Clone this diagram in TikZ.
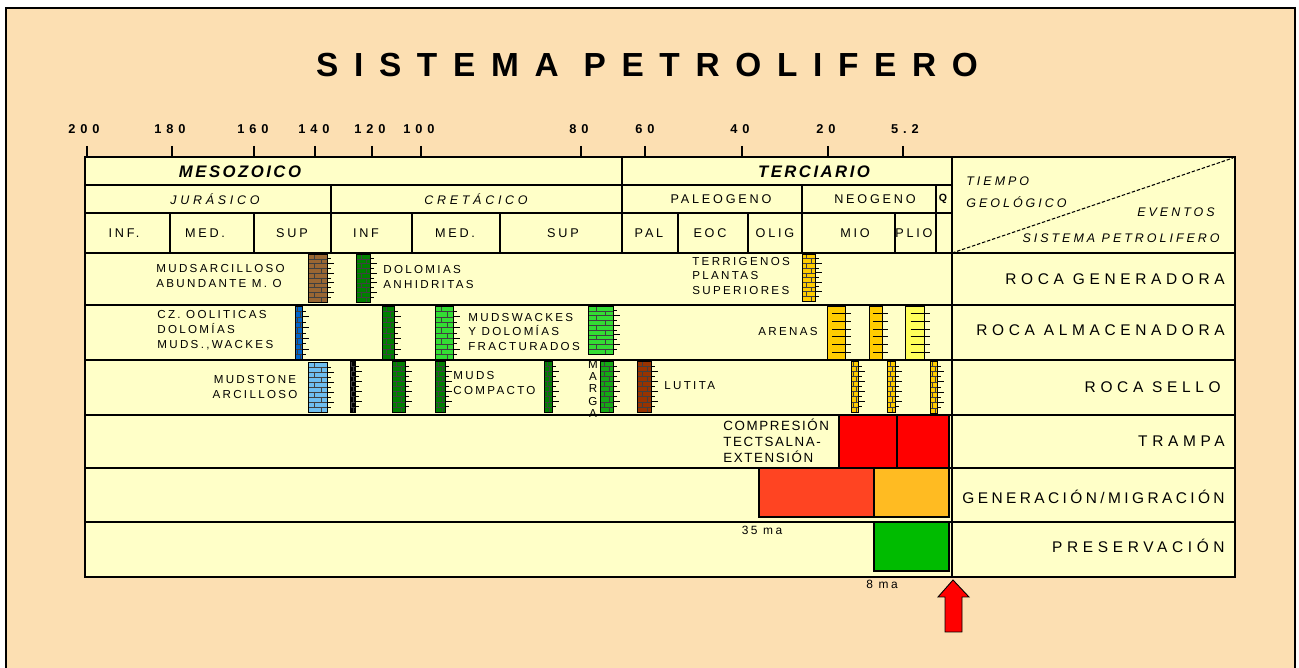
\documentclass[tikz,border=0pt]{standalone}
\usepackage{fontspec}
\setmainfont{Liberation Sans}
\usepackage{xcolor}
\usetikzlibrary{positioning, calc}

\definecolor{peach}{RGB}{252,223,178}
\definecolor{chartbg}{RGB}{255,255,200}
\definecolor{mudbrown}{RGB}{153,102,51}
\definecolor{dolgreen}{RGB}{0,128,0}
\definecolor{litegreen}{RGB}{51,221,51}
\definecolor{marlgreen}{RGB}{20,170,20}
\definecolor{oolblue}{RGB}{0,102,204}
\definecolor{skyblue}{RGB}{110,190,240}
\definecolor{sandgold}{RGB}{255,204,0}
\definecolor{sandpale}{RGB}{255,255,90}
\definecolor{shalebrown}{RGB}{153,51,0}
\definecolor{trapred}{RGB}{255,0,0}
\definecolor{genorange}{RGB}{255,68,34}
\definecolor{migamber}{RGB}{255,187,34}
\definecolor{presgreen}{RGB}{0,187,0}

\newcommand*\sized[2]{\fontsize{#1}{#2}\selectfont}
\newcommand*\track[1]{\addfontfeature{LetterSpace=#1}}

% lithology column: x1, x2, y1, y2, colour
\newcommand{\lithcol}[5]{%
  \fill[#5] (#1,#3) rectangle (#2,#4);
  \foreach \f in {1,...,9}
    \draw[black!75, line width=0.3pt] (#1,{#3+(#4-#3)*\f/10}) -- (#2,{#3+(#4-#3)*\f/10});
  \foreach \f in {0,2,...,8}
    \draw[black!75, line width=0.3pt] ({#1+(#2-#1)*0.35},{#3+(#4-#3)*\f/10}) -- ++(0,{(#4-#3)/10});
  \foreach \f in {1,3,...,9}
    \draw[black!75, line width=0.3pt] ({#1+(#2-#1)*0.7},{#3+(#4-#3)*\f/10}) -- ++(0,{(#4-#3)/10});
  \draw[line width=0.5pt] (#1,#3) rectangle (#2,#4);
  \foreach \f in {1,...,9}
    \draw[line width=0.5pt] (#2,{#3+(#4-#3)*\f/10}) -- ++({mod(\f,2)==0 ? 7 : 4},0);
}
% sand column: x1, x2, y1, y2, colour
\newcommand{\sandcol}[5]{%
  \filldraw[fill=#5, line width=0.5pt] (#1,#3) rectangle (#2,#4);
  \foreach \f in {1,...,6}
    \draw[line width=0.5pt] ({#1+(#2-#1)*0.3},{#3+(#4-#3)*\f/7}) -- ({#2+6},{#3+(#4-#3)*\f/7});
}

\tikzstyle{grid} = [line width=0.8pt, black]
\tikzstyle{titletext} = [font=\sized{19}{22}\bfseries\track{47}, inner sep=0pt]
\tikzstyle{agelabel} = [font=\sized{7.3}{8}\bfseries\track{38}, inner sep=0pt]
\tikzstyle{eralabel} = [font=\sized{9.5}{11}\bfseries\itshape\track{15}, inner sep=0pt]
\tikzstyle{periodlabel} = [font=\sized{7.1}{8}\itshape\track{30}, inner sep=0pt]
\tikzstyle{epochlabel} = [font=\sized{7.2}{8}\track{22}, inner sep=0pt]
\tikzstyle{keytext} = [font=\sized{7.1}{8}\itshape\track{24}, inner sep=0pt]
\tikzstyle{rocktext} = [font=\sized{6.6}{8.5}\track{20}, align=left, anchor=west, inner sep=0pt]
\tikzstyle{eventlabel} = [font=\sized{8.8}{10}\track{30}, anchor=east, inner sep=0pt]
\tikzstyle{marktext} = [font=\sized{6.8}{8}\track{20}, inner sep=0pt]

\begin{document}
\begin{tikzpicture}[x=0.02cm, y=-0.02cm]
    \useasboundingbox (0,0) rectangle (1299,668);

    % === FRAME ===
    \fill[white] (0,0) rectangle (1299,668);
    \filldraw[fill=peach, line width=1.6pt] (6,8) rectangle (1295,700);
    \node (title) [titletext] at (647,65) {SISTEMA PETROLIFERO};

    % === CHART BODY ===
    \fill[chartbg] (85,157) rectangle (1235,577);

    % event boxes
    \filldraw[fill=trapred, line width=0.6pt] (839,415) rectangle (897,468);
    \filldraw[fill=trapred, line width=0.6pt] (897,415) rectangle (949,468);
    \filldraw[fill=genorange, line width=0.6pt] (759,468) rectangle (874,517);
    \filldraw[fill=migamber, line width=0.6pt] (874,468) rectangle (949,517);
    \filldraw[fill=presgreen, line width=0.6pt] (874,522) rectangle (949,571);

    % roca generadora
    \lithcol{308}{327}{254}{302}{mudbrown}
    \lithcol{356}{370}{254}{302}{dolgreen}
    \lithcol{802}{815}{254}{301}{sandgold}
    % roca almacenadora
    \lithcol{295}{302}{306}{360}{oolblue}
    \lithcol{382}{394}{306}{360}{dolgreen}
    \lithcol{435}{453}{306}{360}{litegreen}
    \lithcol{588}{613}{306}{354}{litegreen}
    \sandcol{827}{845}{306}{360}{sandgold}
    \sandcol{869}{882}{306}{360}{sandgold}
    \sandcol{905}{924}{306}{360}{sandpale}
    % roca sello
    \lithcol{308}{327}{362}{412}{skyblue}
    \lithcol{350}{355}{361}{412}{black}
    \lithcol{392}{405}{361}{412}{dolgreen}
    \lithcol{435}{445}{361}{412}{dolgreen}
    \lithcol{544}{552}{361}{412}{dolgreen}
    \lithcol{600}{613}{361}{412}{marlgreen}
    \lithcol{637}{651}{361}{412}{shalebrown}
    \lithcol{851}{858}{361}{412}{sandgold}
    \lithcol{887}{895}{361}{412}{sandgold}
    \lithcol{930}{937}{361}{413}{sandgold}

    % grid
    \draw[grid] (85,157) rectangle (1235,577);
    \foreach \y in {253,305,360,415,468,522} \draw[grid] (85,\y) -- (1235,\y);
    \draw[grid] (85,185) -- (952,185);
    \draw[grid] (85,213) -- (952,213);
    \draw[grid] (952,157) -- (952,577);
    \draw[grid] (622,157) -- (622,253);
    \foreach \x in {331,802,936} \draw[grid] (\x,185) -- (\x,253);
    \foreach \x in {170,254,412,500,678,748,895} \draw[grid] (\x,213) -- (\x,253);
    \draw[dash pattern=on 2pt off 1pt, line width=0.6pt] (952,253) -- (1233,158);

    % === AGE SCALE ===
    \foreach \x/\lx/\lbl [count=\i] in {87/84/200, 172/170/180, 254/253/160, 315/314/140, 372/370/120,
            421/419/100, 581/579/80, 645/645/60, 742/740/40, 828/826/20, 903/905/5.2} {
        \draw[grid] (\x,146) -- (\x,157);
        \node (age\i) [agelabel] at (\lx,129) {\lbl};
    }

    % === HEADER ===
    \node (meso) [eralabel] at (240,172) {MESOZOICO};
    \node (terc) [eralabel] at (814,172) {TERCIARIO};
    \node (jura) [periodlabel] at (215,199) {JURÁSICO};
    \node (creta) [periodlabel] at (476,199) {CRETÁCICO};
    \node (paleo) [epochlabel] at (721,199) {PALEOGENO};
    \node (neo) [epochlabel] at (875,199) {NEOGENO};
    \node (quat) [epochlabel, font=\sized{6}{7}\bfseries] at (943,199) {Q};
    \foreach \x/\lbl [count=\i] in {124/INF., 205/MED., 292/SUP, 366/INF, 455/MED., 563/SUP, 649/PAL, 710/EOC, 775/OLIG, 855/MIO, 914/PLIO}
        \node (epoch\i) [epochlabel] at (\x,233) {\lbl};

    \node (tiempo) [keytext, anchor=west] at (966,181) {TIEMPO};
    \node (geolog) [keytext, anchor=west] at (966,202) {GEOLÓGICO};
    \node (eventos) [keytext, anchor=east] at (1215,212) {EVENTOS};
    \node (sistema) [keytext, anchor=east] at (1220,238) {SISTEMA PETROLIFERO};

    % === ROCK DESCRIPTIONS ===
    \node (mudsarc) [rocktext] at (156,276) {MUDSARCILLOSO\\ABUNDANTE M. O};
    \node (dolanh) [rocktext] at (383,277) {DOLOMIAS\\ANHIDRITAS};
    \node (terrig) [rocktext] at (692,276) {TERRIGENOS\\PLANTAS\\SUPERIORES};
    \node (oolit) [rocktext] at (157,330) {CZ. OOLITICAS\\DOLOMÍAS\\MUDS.,WACKES};
    \node (mudwack) [rocktext] at (468,332) {MUDSWACKES\\Y DOLOMÍAS\\FRACTURADOS};
    \node (arenas) [rocktext] at (758,332) {ARENAS};
    \node (mudst) [rocktext, align=center, anchor=center] at (255,387) {MUDSTONE\\ARCILLOSO};
    \node (mudcomp) [rocktext] at (453,383) {MUDS\\COMPACTO};
    \node (marga) [font=\sized{6.6}{7.1}, align=center, inner sep=0pt] at (593,389) {M\\A\\R\\G\\A};
    \node (lutita) [rocktext] at (664,386) {LUTITA};
    \node (compr) [rocktext, font=\sized{7.6}{9}\track{12}] at (723,441) {COMPRESIÓN\\TECTSALNA-\\EXTENSIÓN};

    \node (ma35) [marktext] at (762,530) {35 ma};
    \node (ma8) [marktext] at (882,584) {8 ma};

    % === EVENTS ===
    \node (ev1) [eventlabel] at (1225,279) {ROCA GENERADORA};
    \node (ev2) [eventlabel] at (1225,330) {ROCA ALMACENADORA};
    \node (ev3) [eventlabel] at (1221,387) {ROCA SELLO};
    \node (ev4) [eventlabel] at (1225,441) {TRAMPA};
    \node (ev5) [eventlabel, font=\sized{8.8}{10}\track{22}] at (1225,497) {GENERACIÓN/MIGRACIÓN};
    \node (ev6) [eventlabel] at (1225,546) {PRESERVACIÓN};

    % critical moment
    \filldraw[fill=red, line width=0.5pt] (953,580) -- (969,597) -- (962,597) -- (962,632)
        -- (945,632) -- (945,597) -- (938,597) -- cycle;

\end{tikzpicture}
\end{document}
